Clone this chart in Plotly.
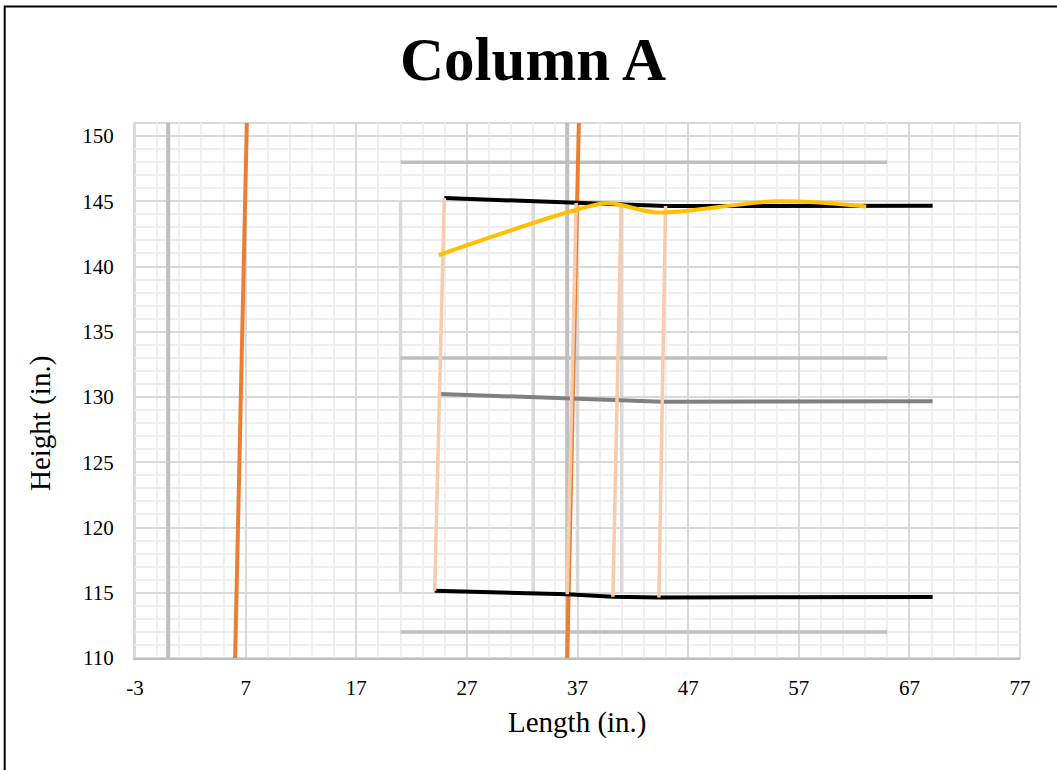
import plotly.graph_objects as go

# ---- data -------------------------------------------------------------
# light-grey vertical ties (x positions) spanning the column height
tie_x = [21, 33, 37, 41]
tie_y = [115, 145]

# heavy grey reference verticals (full height)
ref_x = [0, 36.07]
ref_y = [110, 151]

# grey horizontal guides
guide_y = [112, 133, 148]
guide_x = [21, 65]

# orange slanted lines
orange_a_x = [6.05, 7.11]
orange_b_x = [36.07, 37.12]
orange_y = [110, 151]

# top and bottom faces of the column
top_x = [24.96, 36.88, 40.9, 44.96, 69.1]
top_y = [145.25, 144.87, 144.71, 144.64, 144.66]
bot_x = [24.09, 36.07, 40.2, 44.36, 69.1]
bot_y = [115.16, 114.88, 114.70, 114.64, 114.67]

# centre line
mid_x = [24.6, 36.5, 40.5, 44.7, 69.1]
mid_y = [130.23, 129.88, 129.70, 129.64, 129.67]

# peach connectors (bottom point -> top point)
conn_bx = [24.09, 36.07, 40.2, 44.36]
conn_by = [115.16, 114.88, 114.70, 114.64]
conn_tx = [24.96, 36.88, 40.95, 44.96]
conn_ty = [145.25, 144.87, 144.75, 144.64]

# yellow smoothed profile
prof_x = [24.45, 36.9, 39.8, 44.2, 55.0, 63.1]
prof_y = [140.88, 144.35, 144.85, 144.15, 145.0, 144.6]

x_ticks = [-3, 7, 17, 27, 37, 47, 57, 67, 77]
y_ticks = [110, 115, 120, 125, 130, 135, 140, 145, 150]

FONT = "Liberation Serif"

fig = go.Figure()


def seg(x, y, color, width, shape="linear"):
    fig.add_trace(go.Scatter(x=x, y=y, mode="lines", showlegend=False,
                             hoverinfo="skip",
                             line=dict(color=color, width=width, shape=shape)))


for xv in tie_x:
    seg([xv, xv], tie_y, "#d9d9d9", 3.5)
for xv in ref_x:
    seg([xv, xv], ref_y, "#bfbfbf", 4)
for yv in guide_y:
    seg(guide_x, [yv, yv], "#bfbfbf", 3.5)
seg(orange_a_x, orange_y, "#ed7d31", 4)
seg(orange_b_x, orange_y, "#ed7d31", 4)
seg(top_x, top_y, "#000000", 4)
seg(bot_x, bot_y, "#000000", 4)
seg(mid_x, mid_y, "#808080", 4)

cx, cy = [], []
for bx, by, tx, ty in zip(conn_bx, conn_by, conn_tx, conn_ty):
    cx += [bx, tx, None]
    cy += [by, ty, None]
seg(cx, cy, "#f8cbad", 3.5)
seg(prof_x, prof_y, "#ffc000", 4, shape="spline")

L, R, T, B = 135, 37, 123, 112
W, H = 1057, 770
pw, ph = W - L - R, H - T - B


def px(x):
    return (x - L) / pw


def py(y):
    return (H - B - y) / ph


fig.update_layout(
    width=W, height=H,
    margin=dict(l=L, r=R, t=T, b=B),
    paper_bgcolor="white", plot_bgcolor="white",
    font=dict(family=FONT, color="#000000"),
    xaxis=dict(range=[-3, 77], tickvals=x_ticks, ticktext=[str(v) for v in x_ticks],
               showgrid=True, gridcolor="#d9d9d9", gridwidth=2,
               minor=dict(dtick=2, tick0=-3, showgrid=True, gridcolor="#efefef", gridwidth=1.5),
               zeroline=False, showline=True, linecolor="#bfbfbf", linewidth=2,
               ticks="", ticklabelstandoff=10, tickfont=dict(size=21, family=FONT)),
    yaxis=dict(range=[110, 151], tickvals=y_ticks, ticktext=[str(v) for v in y_ticks],
               showgrid=True, gridcolor="#d9d9d9", gridwidth=2,
               minor=dict(dtick=1, tick0=110, showgrid=True, gridcolor="#efefef", gridwidth=1.5),
               zeroline=False, showline=True, linecolor="#d9d9d9", linewidth=2,
               ticks="", ticklabelstandoff=15, tickfont=dict(size=21, family=FONT)),
    shapes=[
        # plot-area frame
        dict(type="rect", xref="paper", yref="paper", x0=0, x1=1, y0=0, y1=1,
             line=dict(color="#d9d9d9", width=2), layer="between"),
        # chart border
        dict(type="rect", xref="paper", yref="paper",
             x0=px(4.7), x1=px(W + 10), y0=py(H + 10), y1=py(6.5),
             line=dict(color="#000000", width=2)),
    ],
    annotations=[
        dict(text="<b>Column A</b>", xref="paper", yref="paper",
             x=px(533), y=py(60), xanchor="center", yanchor="middle",
             showarrow=False, font=dict(size=61, family=FONT)),
        dict(text="Length (in.)", xref="paper", yref="paper",
             x=px(577), y=py(722), xanchor="center", yanchor="middle",
             showarrow=False, font=dict(size=29, family=FONT)),
        dict(text="Height (in.)", xref="paper", yref="paper",
             x=px(40), y=py(424), xanchor="center", yanchor="middle",
             textangle=-90, showarrow=False, font=dict(size=29, family=FONT)),
    ],
)

fig.write_html("out.html")
